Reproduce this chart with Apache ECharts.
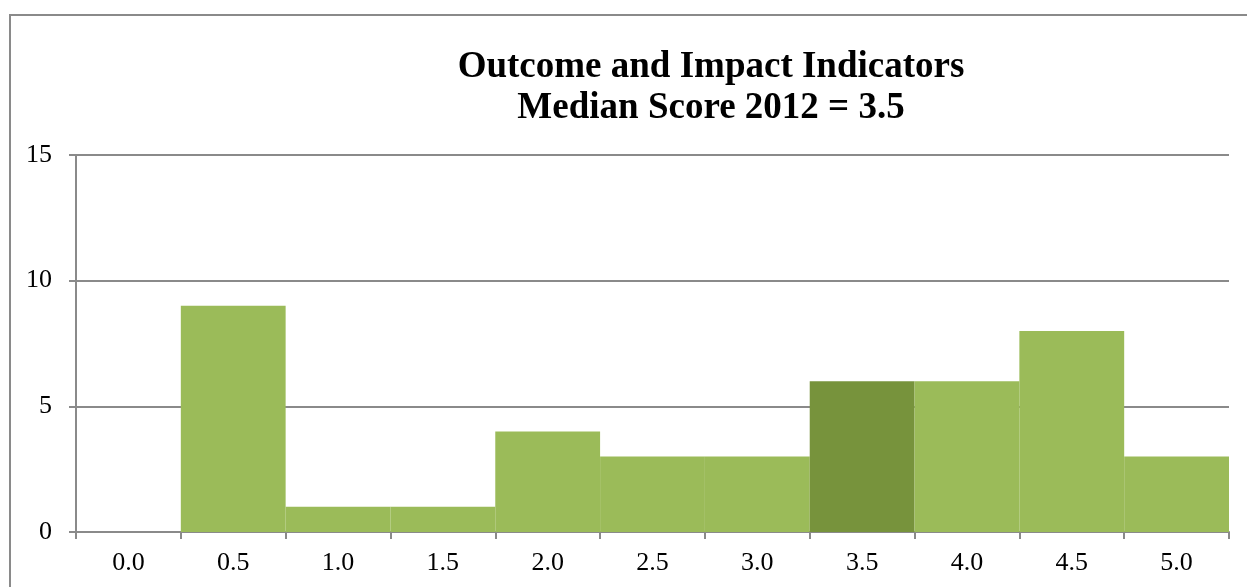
<!DOCTYPE html>
<html>
<head>
<meta charset="utf-8">
<script src="https://cdn.jsdelivr.net/npm/echarts@6/dist/echarts.min.js"></script>
<style>
  html, body { margin: 0; padding: 0; background: #fff; }
  #chart { width: 1247px; height: 587px; }
</style>
</head>
<body>
<div id="chart"></div>
<script>
// scores on the x axis
var categories = ['0.0', '0.5', '1.0', '1.5', '2.0', '2.5', '3.0', '3.5', '4.0', '4.5', '5.0']
// number of indicators per score
var counts = [0, 9, 1, 1, 4, 3, 3, 6, 6, 8, 3]
// the median bar is drawn darker
var medianLabel = '3.5'
var yTicks = [0, 5, 10, 15]

var serif = '"Liberation Serif", "Times New Roman", serif'
var grey = '#8a8a8a'

function barData () {
  var item = []
  counts.forEach(function (v, i) {
    if (categories[i] === medianLabel) {
      item.push({value: v, itemStyle: {color: '#77933C'}})
    } else {
      item.push(v)
    }
  })
  return item
}

var chart = echarts.init(document.getElementById('chart'))
var option = {
  backgroundColor: '#fff',
  animation: false,
  title: {
    text: 'Outcome and Impact Indicators\nMedian Score 2012 = 3.5',
    left: 706,
    top: 42,
    textAlign: 'center',
    textStyle: {
      fontFamily: serif,
      fontWeight: 'bold',
      fontSize: 37,
      lineHeight: 41,
      color: '#000'
    }
  },
  graphic: [
    {
      type: 'rect',
      shape: {x: 10, y: 15, width: 1400, height: 700},
      style: {fill: 'none', stroke: grey, lineWidth: 2},
      silent: true,
      z: 0
    }
  ],
  grid: {
    left: 76,
    right: 18,
    top: 155,
    bottom: 55
  },
  xAxis: {
    type: 'category',
    data: categories,
    boundaryGap: true,
    axisLine: {lineStyle: {color: grey, width: 2}},
    axisTick: {show: true, length: 7, interval: 0, lineStyle: {color: grey, width: 2}},
    axisLabel: {
      interval: 0,
      margin: 18,
      fontFamily: serif,
      fontSize: 26,
      color: '#000'
    }
  },
  yAxis: {
    type: 'value',
    min: 0,
    max: yTicks[yTicks.length - 1],
    interval: 5,
    axisLine: {show: true, lineStyle: {color: grey, width: 2}},
    axisTick: {show: true, length: 7, lineStyle: {color: grey, width: 2}},
    splitLine: {lineStyle: {color: grey, width: 2}},
    axisLabel: {
      margin: 24,
      fontFamily: serif,
      fontSize: 26,
      color: '#000'
    }
  },
  series: [
    {
      type: 'bar',
      data: barData(),
      barWidth: '100%',
      barCategoryGap: 0,
      itemStyle: {color: '#9BBB59'}
    }
  ]
}
chart.setOption(option)
</script>
</body>
</html>
